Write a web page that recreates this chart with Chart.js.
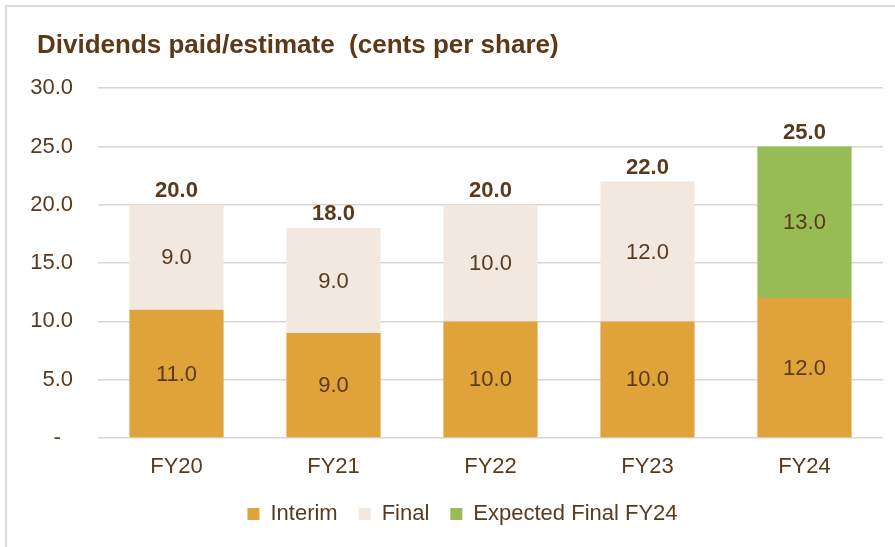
<!DOCTYPE html>
<html>
<head>
<meta charset="utf-8">
<script src="https://cdn.jsdelivr.net/npm/chart.js@4"></script>
<style>
  html,body{margin:0;padding:0;background:#fff;overflow:hidden}
  #wrap{position:absolute;left:0;top:0;width:895px;height:547px}
  #frame{position:absolute;left:5px;top:5px;width:900px;height:560px;border:2px solid #dcdcdc;pointer-events:none}
</style>
</head>
<body>
<div id="wrap"><canvas id="chart-div" width="895" height="547"></canvas></div>
<div id="frame"></div>
<script>
  // values (cents per share)
  const years = ['FY20','FY21','FY22','FY23','FY24'];
  const interim = [11, 9, 10, 10, 12];
  const final = [9, 9, 10, 12, null];
  const expectedFinal = [null, null, null, null, 13];
  const yTicks = [0, 5, 10, 15, 20, 25, 30];

  const BROWN = '#5a3a1c';
  const FONT = "'Liberation Sans', Arial, sans-serif";

  // value labels inside each segment + bold totals on top
  const barLabels = {
    id: 'barLabels',
    afterDatasetsDraw(chart){
      const ctx = chart.ctx;
      ctx.save();
      ctx.textAlign = 'center';
      ctx.fillStyle = BROWN;
      ctx.textBaseline = 'middle';
      ctx.font = '22px ' + FONT;
      chart.data.datasets.forEach((ds, di) => {
        const meta = chart.getDatasetMeta(di);
        meta.data.forEach((bar, i) => {
          const v = ds.data[i];
          if (v == null) return;
          ctx.fillText(v.toFixed(1), bar.x, (bar.y + bar.base) / 2 + 1);
        });
      });
      ctx.font = 'bold 22px ' + FONT;
      years.forEach((y, i) => {
        const total = (interim[i]||0) + (final[i]||0) + (expectedFinal[i]||0);
        const py = chart.scales.y.getPixelForValue(total);
        ctx.fillText(total.toFixed(1), chart.scales.x.getPixelForValue(i), py - 14);
      });
      ctx.restore();
    }
  };

  // title and legend nudged right a little, like the original
  const nudge = {
    id: 'nudge',
    afterLayout(chart){
      if (chart.titleBlock) chart.titleBlock.left += 9;
      if (chart.legend){ chart.legend.left += 7; chart.legend.right += 7; }
    }
  };

  new Chart(document.getElementById('chart-div'), {
    type: 'bar',
    data: {
      labels: years,
      datasets: [
        { label:'Interim', data: interim, backgroundColor:'#e0a33a' },
        { label:'Final', data: final, backgroundColor:'#f3e8e0' },
        { label:'Expected Final FY24', data: expectedFinal, backgroundColor:'#97bb55' }
      ]
    },
    options: {
      responsive: false,
      animation: false,
      layout: { padding: { top: 30, left: 28, right: 12, bottom: 12 } },
      datasets: { bar: { barPercentage: 0.6, categoryPercentage: 1 } },
      scales: {
        x: {
          stacked: true,
          afterFit: s => { s.height = 44; },
          grid: { display: false, drawTicks: false },
          border: { display: false },
          ticks: { color: BROWN, font: { family: FONT, size: 22 }, padding: 16 }
        },
        y: {
          stacked: true,
          min: 0, max: 30,
          afterBuildTicks: s => { s.ticks = yTicks.map(v => ({ value: v })); },
          afterFit: s => { s.width = 70; },
          grid: { color: '#d6d6d6', lineWidth: 1.5, drawTicks: false },
          border: { display: false },
          ticks: {
            color: BROWN, padding: 25,
            font: { family: FONT, size: 22 },
            callback: v => v === 0 ? '-  ' : v.toFixed(1)
          }
        }
      },
      plugins: {
        title: {
          display: true, align: 'start',
          text: 'Dividends paid/estimate  (cents per share)',
          color: '#5c3a17',
          font: { family: FONT, size: 26, weight: 'bold' },
          padding: { top: 0, bottom: 27 }
        },
        legend: {
          position: 'bottom',
          labels: {
            color: BROWN, boxWidth: 12, boxHeight: 12, padding: 21,
            font: { family: FONT, size: 22 }
          }
        },
        tooltip: { enabled: false }
      }
    },
    plugins: [barLabels, nudge]
  });
</script>
</body>
</html>
